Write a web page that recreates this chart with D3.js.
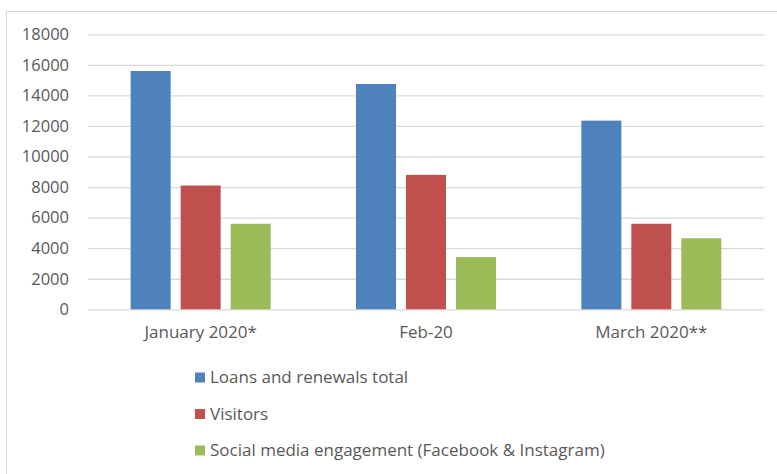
<!DOCTYPE html>
<html><head><meta charset="utf-8">
<script src="https://cdn.jsdelivr.net/npm/d3@7"></script>
<style>body{margin:0;background:#fff}svg{display:block}text{font-family:"Open Sans",sans-serif;fill:#595959}</style>
</head><body><svg id="c" width="777" height="474"></svg>
<script>
const categories = ["January 2020*", "Feb-20", "March 2020**"];
const seriesNames = ["Loans and renewals total", "Visitors", "Social media engagement (Facebook & Instagram)"];
const loans = [15600, 14750, 12350];
const visitors = [8100, 8800, 5600];
const social = [5600, 3420, 4650];
const yTicks = [0, 2000, 4000, 6000, 8000, 10000, 12000, 14000, 16000, 18000];
const colors = ["#4f81bd", "#c0504d", "#9bbb59"];

const series = [loans, visitors, social];
const svg = d3.select("#c");
// frame
svg.append("line").attr("x1",6.5).attr("x2",777).attr("y1",11.5).attr("y2",11.5).attr("stroke","#d9d9d9");
svg.append("line").attr("x1",6.5).attr("x2",6.5).attr("y1",11.5).attr("y2",474).attr("stroke","#d9d9d9");

const x0 = d3.scaleBand().domain(categories).range([88, 764]);
const x1 = d3.scaleBand().domain(seriesNames).range([0, 140]).paddingInner(0.2);
const y = d3.scaleLinear().domain([0, 18000]).range([309.3, 34.3]);

const yAxis = d3.axisLeft(y).tickValues(yTicks).tickSize(-(764-88)).tickPadding(19).tickFormat(d3.format("d"));
const gy = svg.append("g").attr("transform","translate(88,0)").call(yAxis);
gy.select(".domain").remove();
gy.selectAll(".tick line").attr("stroke","#d9d9d9").attr("stroke-width",1.3);
gy.selectAll(".tick text").attr("font-size",16.5).style("fill","#595959");

const g = svg.append("g");
categories.forEach((c,i)=>{
  const off = x0(c) + (x0.bandwidth()-140)/2;
  seriesNames.forEach((s,j)=>{
    g.append("rect").attr("x", off + x1(s)).attr("width", x1.bandwidth())
      .attr("y", y(series[j][i])).attr("height", y(0)-y(series[j][i]))
      .attr("fill", colors[j]);
  });
});

const xAxis = d3.axisBottom(x0).tickSize(0).tickPadding(17);
const gx = svg.append("g").attr("transform","translate(0,309.3)").call(xAxis);
gx.select(".domain").remove();
gx.selectAll(".tick text").attr("font-size",17).style("fill","#595959");

const leg = svg.append("g");
seriesNames.forEach((s,j)=>{
  const cy = 377.5 + j*36.5;
  leg.append("rect").attr("x",195).attr("y",cy-5).attr("width",10).attr("height",10).attr("fill",colors[j]);
  leg.append("text").attr("x",210).attr("y",cy).attr("dy","0.35em").attr("font-size",17).text(s);
});
</script></body></html>
